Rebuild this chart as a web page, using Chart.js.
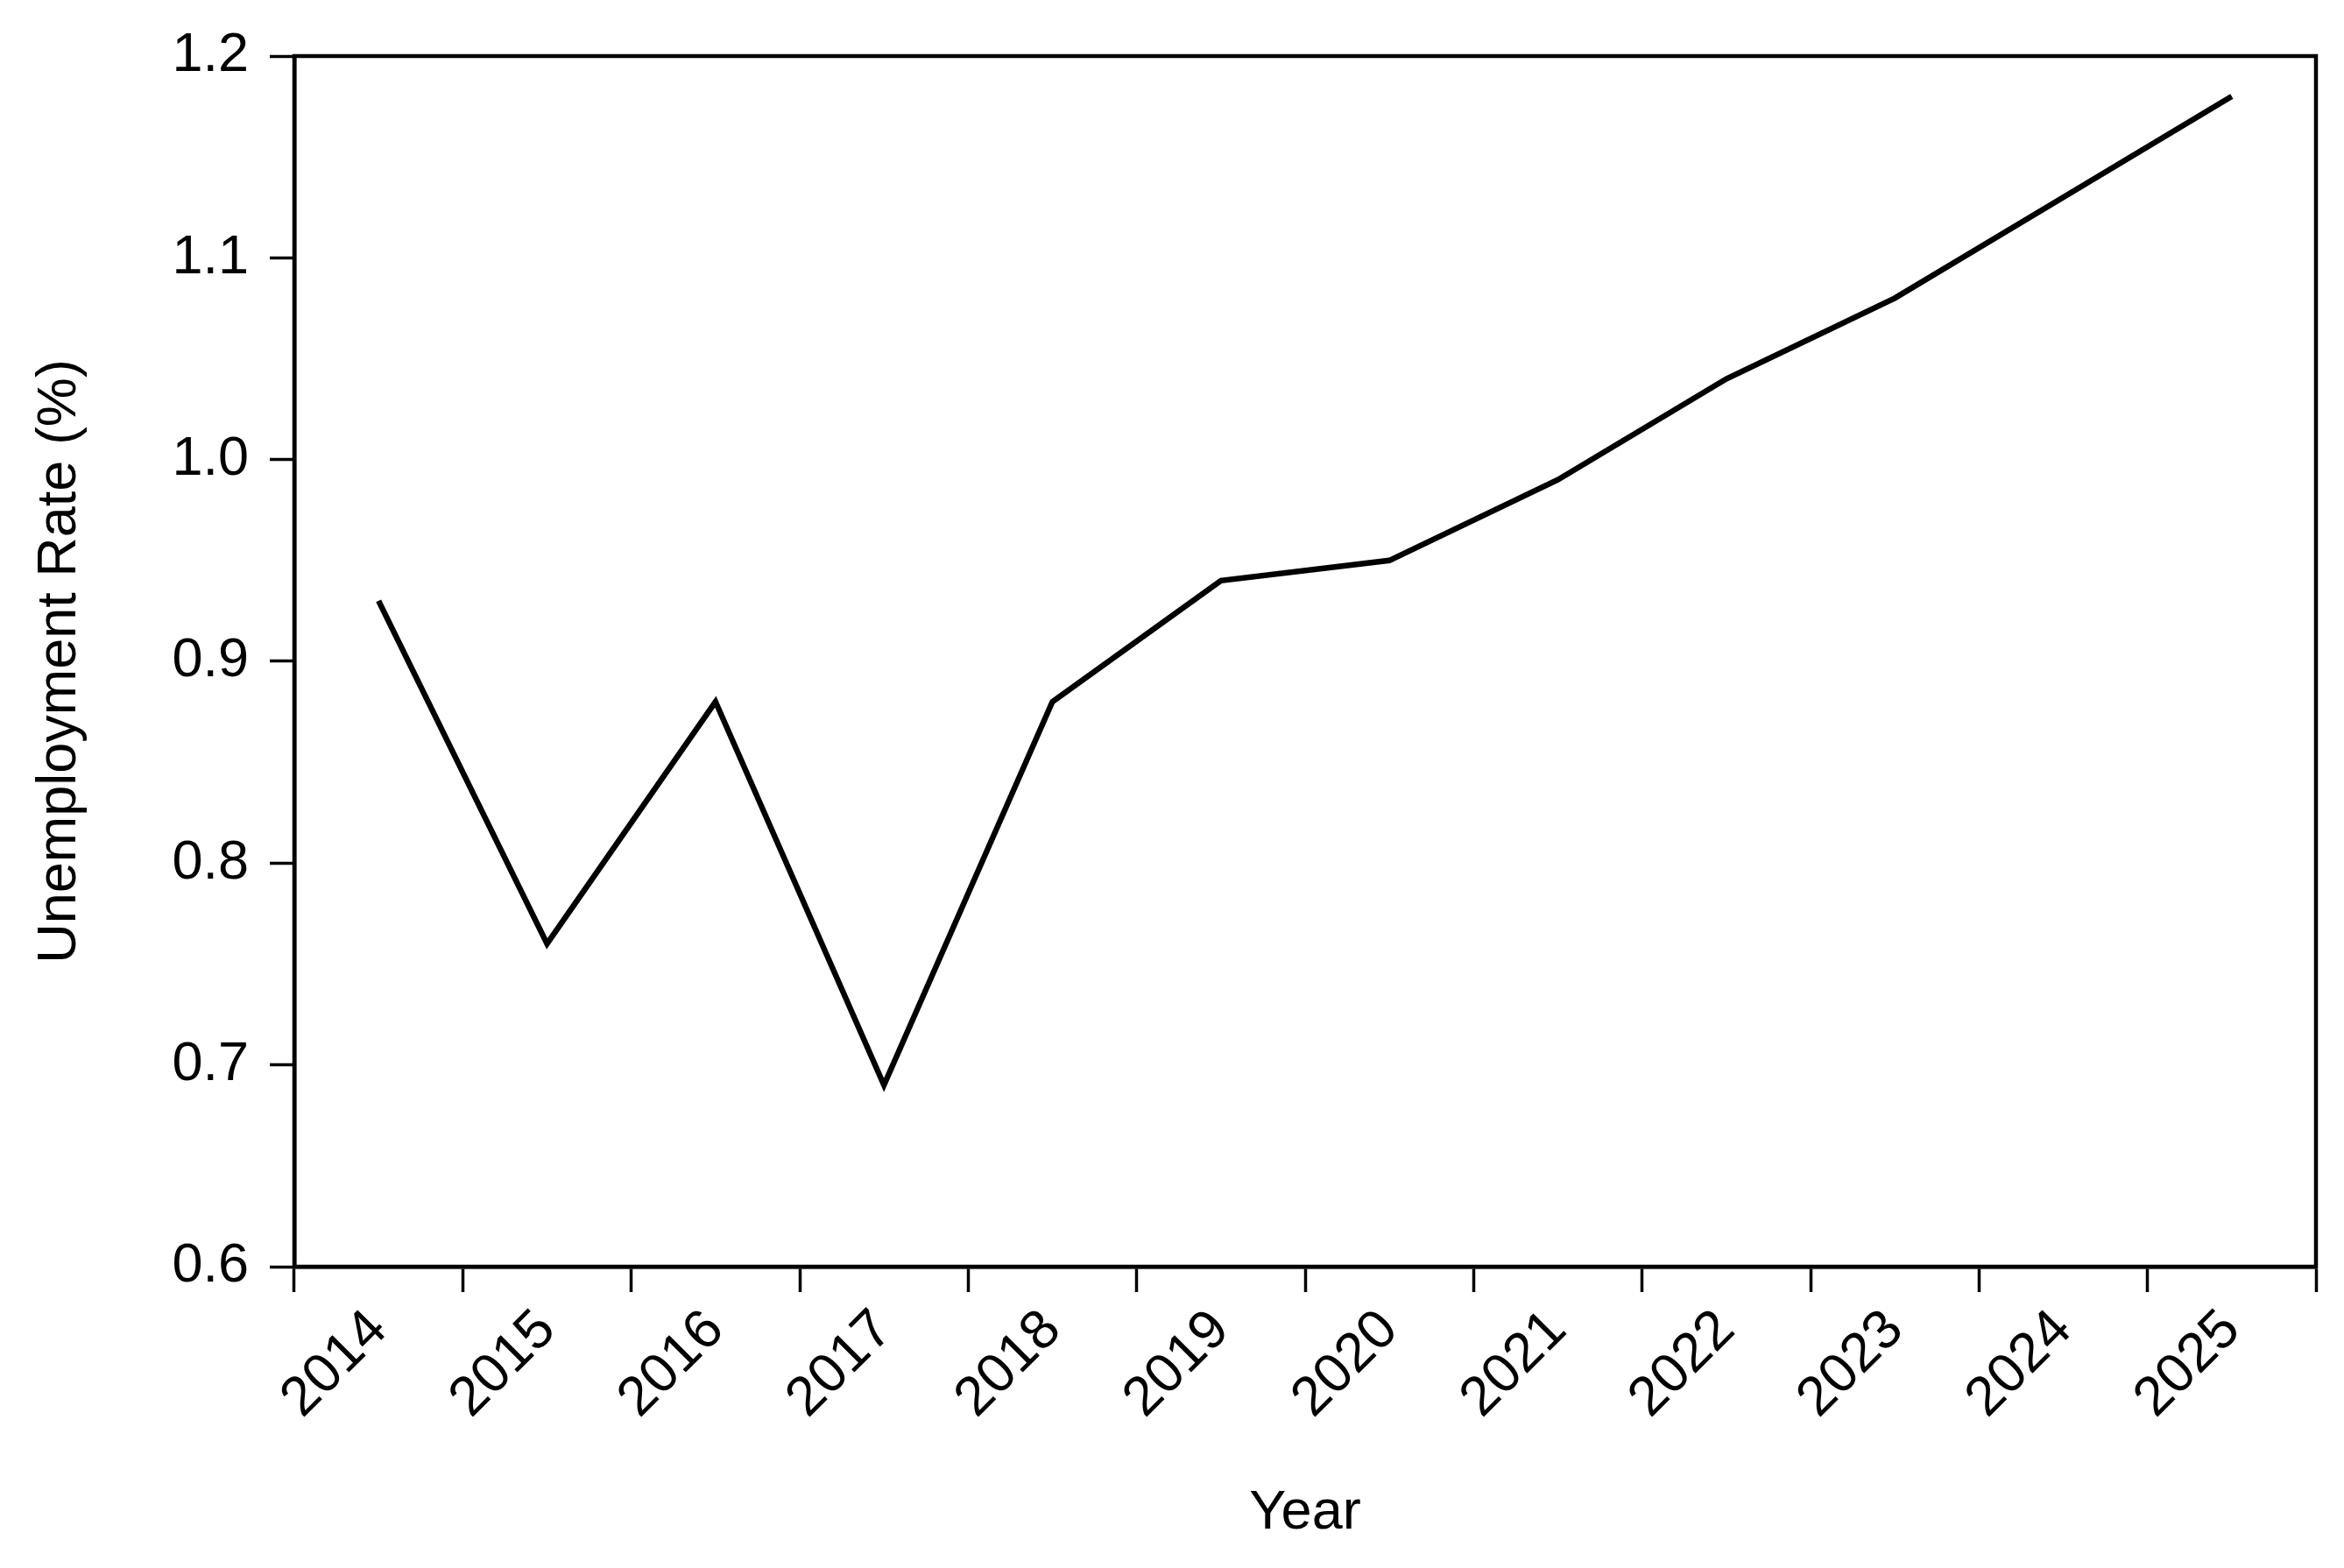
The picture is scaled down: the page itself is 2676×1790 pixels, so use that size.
<!DOCTYPE html>
<html>
<head>
<meta charset="utf-8">
<script src="https://cdn.jsdelivr.net/npm/chart.js@4.4.0/dist/chart.umd.min.js"></script>
<style>
  html, body { margin: 0; padding: 0; background: #fff; }
  #wrap { width: 2676px; height: 1790px; }
</style>
</head>
<body>
<div id="wrap"><canvas id="myChart" width="2676" height="1790"></canvas></div>
<script>
// data
const years = ['2014', '2015', '2016', '2017', '2018', '2019', '2020', '2021', '2022', '2023', '2024', '2025'];
const unemploymentRate = [0.93, 0.76, 0.88, 0.69, 0.88, 0.94, 0.95, 0.99, 1.04, 1.08, 1.13, 1.18];
const yTicks = [0.6, 0.7, 0.8, 0.9, 1.0, 1.1, 1.2];

const FONT = "'Liberation Sans', Arial, sans-serif";

// box round the plot area (top + right sides)
const frame = {
  id: 'frame',
  afterDraw(chart) {
    const { ctx, chartArea: a } = chart;
    ctx.save();
    ctx.strokeStyle = '#000';
    ctx.lineWidth = 4.5;
    ctx.strokeRect(a.left, a.top, a.right - a.left, a.bottom - a.top);
    ctx.restore();
  }
};

const ctx = document.getElementById('myChart');

const myChart = new Chart(ctx, {
  type: 'line',
  data: {
    labels: years,
    datasets: [{
      label: 'Unemployment Rate (%)',
      data: unemploymentRate,
      borderColor: '#000',
      borderWidth: 6.5,
      pointRadius: 0,
      tension: 0,
      fill: false
    }]
  },
  options: {
    responsive: false,
    animation: false,
    devicePixelRatio: 1,
    layout: { padding: { top: 64, right: 32, left: 0, bottom: 0 } },
    plugins: {
      legend: { display: false },
      tooltip: { enabled: false }
    },
    scales: {
      x: {
        offset: true,
        afterFit: (s) => { s.height = 344; },
        grid: {
          offset: true,
          drawOnChartArea: false,
          tickLength: 29,
          tickWidth: 3.5,
          tickColor: '#000'
        },
        border: { display: true, color: '#000', width: 4.5 },
        ticks: {
          color: '#000',
          font: { family: FONT, size: 63, lineHeight: 1 },
          minRotation: 45,
          maxRotation: 45,
          autoSkip: false,
          padding: 11
        },
        title: {
          display: true,
          text: 'Year',
          color: '#000',
          font: { family: FONT, size: 63, lineHeight: 1 },
          padding: { top: 0, bottom: 31 }
        }
      },
      y: {
        min: yTicks[0],
        max: yTicks[yTicks.length - 1],
        afterFit: (s) => { s.width = 336; },
        afterBuildTicks: (s) => { s.ticks = yTicks.map(v => ({ value: v })); },
        grid: {
          drawOnChartArea: false,
          tickLength: 28,
          tickWidth: 3.5,
          tickColor: '#000'
        },
        border: { display: true, color: '#000', width: 4.5 },
        ticks: {
          color: '#000',
          font: { family: FONT, size: 63 },
          padding: 24,
          callback: (v) => Number(v).toFixed(1)
        },
        title: {
          display: true,
          text: 'Unemployment Rate (%)',
          color: '#000',
          font: { family: FONT, size: 63, lineHeight: 1 },
          padding: { top: 37, bottom: 0 }
        }
      }
    }
  },
  plugins: [frame]
});
</script>
</body>
</html>
